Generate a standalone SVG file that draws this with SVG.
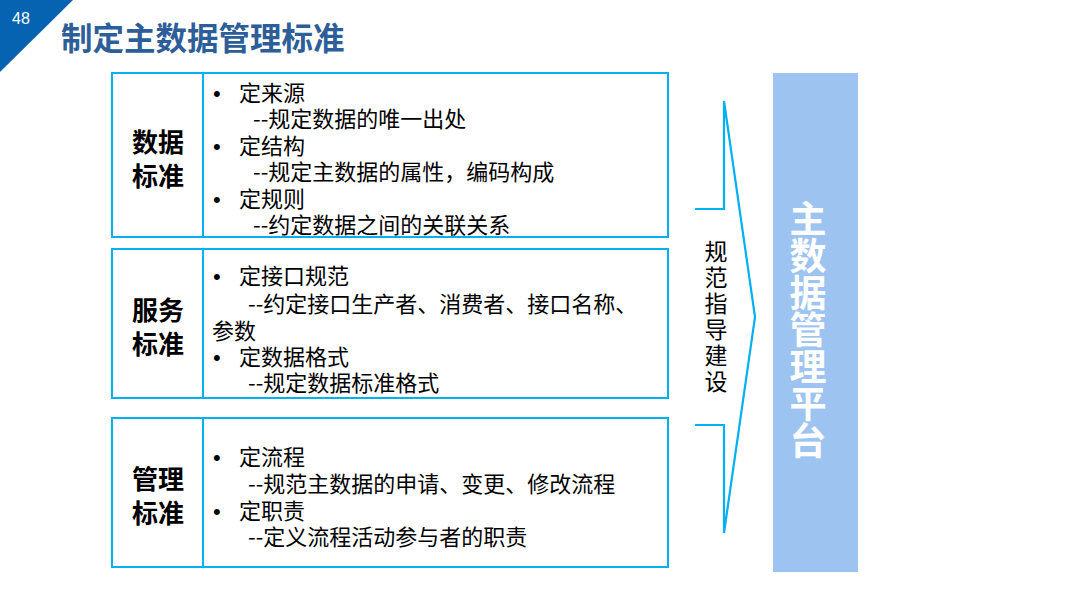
<svg xmlns="http://www.w3.org/2000/svg" width="1080" height="608" viewBox="0 0 1080 608">
<style>
.box{fill:#fff;stroke:#00B0F0;stroke-width:2}
.div{stroke:#00B0F0;stroke-width:2}
.t{font-family:"Noto Sans CJK SC","Liberation Sans",sans-serif;font-size:22px;fill:#000}
.bu{font-family:"Liberation Sans",sans-serif;font-size:22px}
.lb{font-family:"Noto Sans CJK SC",sans-serif;font-size:26px;font-weight:bold;fill:#000;text-anchor:middle}
.v{font-family:"Noto Sans CJK SC",sans-serif;font-size:23px;fill:#000;writing-mode:vertical-rl;letter-spacing:3px}
.vb{font-family:"Noto Sans CJK SC",sans-serif;font-size:37px;font-weight:bold;fill:#fff;writing-mode:vertical-rl}
</style>
<rect width="1080" height="608" fill="#fff"/>
<g id="page-tag">
<polygon points="0,0 73,0 0,72" fill="#0563B2"/>
<text x="12" y="24" font-family="Liberation Sans,sans-serif" font-size="16" fill="#fff">48</text>
</g>
<g id="title">
<text x="61" y="50" font-family="Noto Sans CJK SC,sans-serif" font-size="31.5" font-weight="bold" fill="#2E5E99">制定主数据管理标准</text>
</g>
<g id="node-data-standard">
<rect class="box" x="112" y="73" width="556" height="164"/>
<line class="div" x1="203" y1="73" x2="203" y2="237"/>
<text class="lb"><tspan x="158" y="152">数据</tspan><tspan x="158" y="186">标准</tspan></text>
<text class="t"><tspan class="bu" x="213" y="101">•</tspan><tspan x="239" y="101">定来源</tspan><tspan x="253" y="127">--规定数据的唯一出处</tspan><tspan class="bu" x="213" y="154">•</tspan><tspan x="239" y="154">定结构</tspan><tspan x="253" y="180">--规定主数据的属性，编码构成</tspan><tspan class="bu" x="213" y="206.5">•</tspan><tspan x="239" y="206.5">定规则</tspan><tspan x="253" y="233">--约定数据之间的关联关系</tspan></text>
</g>
<g id="node-service-standard">
<rect class="box" x="112" y="249" width="556" height="149"/>
<line class="div" x1="203" y1="249" x2="203" y2="398"/>
<text class="lb"><tspan x="158" y="320">服务</tspan><tspan x="158" y="354">标准</tspan></text>
<text class="t"><tspan class="bu" x="213" y="283.5">•</tspan><tspan x="239" y="283.5">定接口规范</tspan><tspan x="248" y="311.5">--约定接口生产者、消费者、接口名称、</tspan><tspan x="212" y="338.5">参数</tspan><tspan class="bu" x="213" y="364.5">•</tspan><tspan x="239" y="364.5">定数据格式</tspan><tspan x="248" y="390.5">--规定数据标准格式</tspan></text>
</g>
<g id="node-management-standard">
<rect class="box" x="112" y="418" width="556" height="149"/>
<line class="div" x1="203" y1="418" x2="203" y2="567"/>
<text class="lb"><tspan x="158" y="489">管理</tspan><tspan x="158" y="523">标准</tspan></text>
<text class="t"><tspan class="bu" x="213" y="465">•</tspan><tspan x="239" y="465">定流程</tspan><tspan x="248" y="491.5">--规范主数据的申请、变更、修改流程</tspan><tspan class="bu" x="213" y="518.5">•</tspan><tspan x="239" y="518.5">定职责</tspan><tspan x="248" y="545">--定义流程活动参与者的职责</tspan></text>
</g>
<g id="connectors">
<path d="M695,209 H724 V101 L755,317 L724,533 V425 H695" fill="none" stroke="#00B0F0" stroke-width="2.2" stroke-linejoin="miter"/>
<text id="connector-label" class="v" x="716" y="240">规范指导建设</text>
</g>
<g id="node-platform">
<rect x="773" y="73" width="85" height="499" fill="#9DC3F1"/>
<text class="vb" x="808" y="200.5">主数据管理平台</text>
</g>
</svg>
